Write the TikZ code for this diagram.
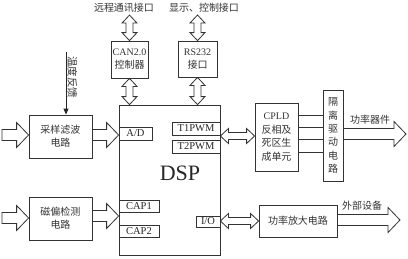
\documentclass[tikz,border=0pt]{standalone}
\usepackage{fontspec}
\setmainfont{Liberation Serif}
\newfontfamily\cjk{Noto Sans CJK SC}
\usepackage{tikz}
\usetikzlibrary{arrows.meta,positioning,calc}

% hollow block arrows (start point gives the line)
\newcommand\harrow[2]{%
  \draw[blk] let \p1=(#1), \p2=(#2) in
    (\x1,\y1+5.5pt) -- (\x2-12pt,\y1+5.5pt) -- (\x2-12pt,\y1+12.5pt) -- (\x2,\y1)
    -- (\x2-12pt,\y1-12.5pt) -- (\x2-12pt,\y1-5.5pt) -- (\x1,\y1-5.5pt) -- cycle;}
\newcommand\hdarrow[2]{%
  \draw[blk] let \p1=(#1), \p2=(#2) in
    (\x1,\y1) -- (\x1+8pt,\y1+7.5pt) -- (\x1+8pt,\y1+3.5pt) -- (\x2-8pt,\y1+3.5pt)
    -- (\x2-8pt,\y1+7.5pt) -- (\x2,\y1) -- (\x2-8pt,\y1-7.5pt) -- (\x2-8pt,\y1-3.5pt)
    -- (\x1+8pt,\y1-3.5pt) -- (\x1+8pt,\y1-7.5pt) -- cycle;}
\newcommand\vdarrow[2]{%
  \draw[blk] let \p1=(#1), \p2=(#2) in
    (\x1,\y1) -- (\x1+7.5pt,\y1-8pt) -- (\x1+3.5pt,\y1-8pt) -- (\x1+3.5pt,\y2+8pt)
    -- (\x1+7.5pt,\y2+8pt) -- (\x1,\y2) -- (\x1-7.5pt,\y2+8pt) -- (\x1-3.5pt,\y2+8pt)
    -- (\x1-3.5pt,\y1-8pt) -- (\x1-7.5pt,\y1-8pt) -- cycle;}

\begin{document}
\begin{tikzpicture}[
    x=1pt,y=-1pt,
    box/.style={rectangle,draw=black!80,line width=0.8pt,inner sep=1pt,align=center,
                text=black!80,font=\cjk\fontsize{10}{13}\selectfont},
    port/.style={rectangle,draw=black!80,line width=0.8pt,inner sep=0pt,
                 text=black!85,font=\fontsize{10.5}{12}\selectfont},
    lbl/.style={text=black!80,inner sep=2pt,font=\cjk\fontsize{10}{12}\selectfont},
    blk/.style={draw=black!80,line width=0.8pt,line join=miter},
    thick
  ]
    \useasboundingbox (0,0) rectangle (408,258);

    % main blocks
    \node[box,minimum width=101pt,minimum height=150pt] (dsp) at (169.5,180) {};
    \node[font=\fontsize{22}{24}\selectfont,text=black!85] (dsptxt) at (180,173) {DSP};
    \node[box,minimum width=37pt,minimum height=37pt] (can) at (129.5,59.5)
      {\fontspec{Liberation Serif}CAN2.0\\控制器};
    \node[box,minimum width=39pt,minimum height=36pt] (rs) at (197.5,59)
      {\fontspec{Liberation Serif}RS232\\接口};
    \node[box,minimum width=63pt,minimum height=43pt] (samp) at (60.5,136.5) {采样滤波\\电路};
    \node[box,minimum width=63pt,minimum height=43pt] (mag) at (60.5,218.5) {磁偏检测\\电路};
    \node[box,minimum width=43pt,minimum height=68pt,font=\cjk\fontsize{10}{13.7}\selectfont]
      (cpld) at (276.5,137) {\fontspec{Liberation Serif}CPLD\\反相及\\死区生\\成单元};
    \node[box,minimum width=20pt,minimum height=91pt,font=\cjk\fontsize{10}{13.4}\selectfont]
      (iso) at (333,135.5) {隔\\离\\驱\\动\\电\\路};
    \node[box,minimum width=78pt,minimum height=32pt] (amp) at (298,221) {功率放大电路};

    % ports on the DSP
    \node[port,anchor=west,minimum width=33pt,minimum height=13pt] (ad) at (dsp.west |- 0,133.5) {A/D};
    \node[port,anchor=east,minimum width=48pt,minimum height=13pt] (tpwm1) at (dsp.east |- 0,128.5) {T1PWM};
    \node[port,anchor=east,minimum width=48pt,minimum height=13pt] (tpwm2) at (dsp.east |- 0,146.5) {T2PWM};
    \node[port,anchor=west,minimum width=40pt,minimum height=12pt] (cap1) at (dsp.west |- 0,206) {CAP1};
    \node[port,anchor=west,minimum width=40pt,minimum height=12pt] (cap2) at (dsp.west |- 0,231) {CAP2};
    \node[port,anchor=east,minimum width=24pt,minimum height=11pt] (io) at (dsp.east |- 0,221.5) {I/O};

    % labels
    \node[lbl] (remote) at (124,8) {远程通讯接口};
    \node[lbl] (disp) at (204,8) {显示、控制接口};
    \node[lbl] (power) at (370,120) {功率器件};
    \node[lbl] (ext) at (362,206) {外部设备};
    \node[lbl,rotate=-90,font=\cjk\fontsize{10.5}{12}\selectfont] (temp) at (72.5,77) {温度反馈};

    \coordinate (tempin) at (66,52);
    \coordinate (sampin) at (2,135);
    \coordinate (magin) at (2,218);
    \coordinate (powout) at (406,134);
    \coordinate (extout) at (400,220);

    % connectors
    \draw[black!85,line width=0.8pt,-{Triangle[length=6pt,width=5pt]}] (tempin) -- (samp.north -| tempin);
    \vdarrow{can.north |- remote.south}{can.north}
    \vdarrow{can.south}{can.south |- dsp.north}
    \vdarrow{rs.north |- disp.south}{rs.north}
    \vdarrow{rs.south}{rs.south |- dsp.north}
    \harrow{sampin}{samp.west}
    \harrow{samp.east |- 0,135}{dsp.west}
    \harrow{magin}{mag.west}
    \harrow{mag.east |- 0,216}{dsp.west}
    \hdarrow{dsp.east |- 0,136}{cpld.west}
    \hdarrow{dsp.east |- 0,221}{amp.west}
    \foreach \yy in {115,127.3,139.7,152}
      \draw[black!80,line width=0.8pt] (cpld.east |- 0,\yy) -- (iso.west |- 0,\yy);
    \harrow{iso.east |- 0,134}{powout}
    \harrow{amp.east |- 0,220}{extout}
  \end{tikzpicture}
\end{document}
